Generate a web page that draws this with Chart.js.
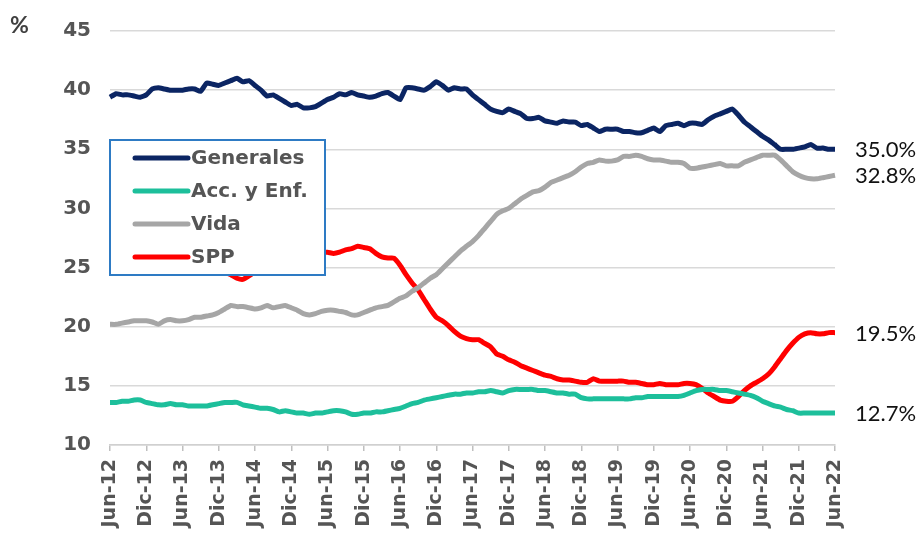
<!DOCTYPE html>
<html>
<head>
<meta charset="utf-8">
<script src="https://cdn.jsdelivr.net/npm/chart.js@4.4.1/dist/chart.umd.min.js"></script>
<style>
  html, body { margin: 0; padding: 0; background: #fff; }
  #wrap { position: relative; width: 921px; height: 536px; }
  .fontwarm { position: absolute; left: -9999px; top: 0; }
</style>
</head>
<body>
<span class="fontwarm" style="font-family: Lato; font-weight: 400;">35.0% 32.8%</span>
<span class="fontwarm" style="font-family: Lato; font-weight: 700;">%</span>
<span class="fontwarm" style="font-family: 'DejaVu Sans'; font-weight: 700;">Generales</span>
<div id="wrap"><canvas id="c" width="921" height="536"></canvas></div>
<script>
// ---- Data ----
const monthNames = ['Ene','Feb','Mar','Abr','May','Jun','Jul','Ago','Set','Oct','Nov','Dic'];
const startMonth = 5;   // Jun
const startYear = 12;   // 2012
const nMonths = 121;    // Jun-12 .. Jun-22
const categories = [];
for (let i = 0; i < nMonths; i++) {
  const m = (startMonth + i) % 12;
  const y = startYear + Math.floor((startMonth + i) / 12);
  categories.push(monthNames[m] + '-' + y);
}
const tickEvery = 6;
const yTicks = [10, 15, 20, 25, 30, 35, 40, 45];

const seriesNames = ['Generales', 'Acc. y Enf.', 'Vida', 'SPP'];

const generales = [
  39.4,39.7,39.6,39.6,39.5,39.4,39.6,40.1,40.2,40.1,40.0,40.0,40.0,40.1,40.1,39.9,40.6,40.5,40.4,40.6,
  40.8,41.0,40.7,40.8,40.4,40.0,39.5,39.6,39.3,39.0,38.7,38.8,38.5,38.5,38.6,38.9,39.2,39.4,39.7,39.6,
  39.8,39.6,39.5,39.4,39.5,39.7,39.8,39.5,39.2,40.2,40.2,40.1,40.0,40.3,40.7,40.4,40.0,40.2,40.1,40.1,
  39.6,39.2,38.8,38.4,38.2,38.1,38.4,38.2,38.0,37.6,37.6,37.7,37.4,37.3,37.2,37.4,37.3,37.3,37.0,37.1,
  36.8,36.5,36.7,36.7,36.7,36.5,36.5,36.4,36.4,36.6,36.8,36.5,37.0,37.1,37.2,37.0,37.2,37.2,37.1,37.5,
  37.8,38.0,38.2,38.4,37.9,37.3,36.9,36.5,36.1,35.8,35.4,35.0,35.0,35.0,35.1,35.2,35.4,35.1,35.1,35.0,
  35.0
];
const accEnf = [
  13.6,13.6,13.7,13.7,13.8,13.8,13.6,13.5,13.4,13.4,13.5,13.4,13.4,13.3,13.3,13.3,13.3,13.4,13.5,13.6,
  13.6,13.6,13.4,13.3,13.2,13.1,13.1,13.0,12.8,12.9,12.8,12.7,12.7,12.6,12.7,12.7,12.8,12.9,12.9,12.8,
  12.6,12.6,12.7,12.7,12.8,12.8,12.9,13.0,13.1,13.3,13.5,13.6,13.8,13.9,14.0,14.1,14.2,14.3,14.3,14.4,
  14.4,14.5,14.5,14.6,14.5,14.4,14.6,14.7,14.7,14.7,14.7,14.6,14.6,14.5,14.4,14.4,14.3,14.3,14.0,13.9,
  13.9,13.9,13.9,13.9,13.9,13.9,13.9,14.0,14.0,14.1,14.1,14.1,14.1,14.1,14.1,14.2,14.4,14.6,14.7,14.7,
  14.7,14.6,14.6,14.5,14.4,14.3,14.2,14.0,13.7,13.5,13.3,13.2,13.0,12.9,12.7,12.7,12.7,12.7,12.7,12.7,
  12.7
];
const vida = [
  20.2,20.2,20.3,20.4,20.5,20.5,20.5,20.4,20.2,20.5,20.6,20.5,20.5,20.6,20.8,20.8,20.9,21.0,21.2,21.5,
  21.8,21.7,21.7,21.6,21.5,21.6,21.8,21.6,21.7,21.8,21.6,21.4,21.1,21.0,21.1,21.3,21.4,21.4,21.3,21.2,
  21.0,21.0,21.2,21.4,21.6,21.7,21.8,22.1,22.4,22.6,23.0,23.3,23.7,24.1,24.4,24.9,25.4,25.9,26.4,26.8,
  27.2,27.7,28.3,28.9,29.5,29.8,30.0,30.4,30.8,31.1,31.4,31.5,31.8,32.2,32.4,32.6,32.8,33.1,33.5,33.8,
  33.9,34.1,34.0,34.0,34.1,34.4,34.4,34.5,34.4,34.2,34.1,34.1,34.0,33.9,33.9,33.8,33.4,33.4,33.5,33.6,
  33.7,33.8,33.6,33.6,33.6,33.9,34.1,34.3,34.5,34.5,34.5,34.1,33.6,33.1,32.8,32.6,32.5,32.5,32.6,32.7,
  32.8
];
const spp = [
  26.5,26.4,26.3,26.2,26.0,26.1,25.9,25.8,25.7,25.6,25.5,25.4,25.3,25.2,25.0,25.0,24.9,24.8,24.7,24.6,
  24.4,24.1,24.0,24.3,24.6,25.0,25.3,25.5,25.7,25.9,26.0,26.1,26.2,26.3,26.3,26.3,26.3,26.2,26.3,26.5,
  26.6,26.8,26.7,26.6,26.2,25.9,25.8,25.8,25.2,24.4,23.7,23.1,22.3,21.5,20.8,20.5,20.1,19.6,19.2,19.0,
  18.9,18.9,18.6,18.3,17.7,17.5,17.2,17.0,16.7,16.5,16.3,16.1,15.9,15.8,15.6,15.5,15.5,15.4,15.3,15.3,
  15.6,15.4,15.4,15.4,15.4,15.4,15.3,15.3,15.2,15.1,15.1,15.2,15.1,15.1,15.1,15.2,15.2,15.1,14.8,14.4,
  14.1,13.8,13.7,13.7,14.1,14.6,15.0,15.3,15.6,16.0,16.6,17.3,18.0,18.6,19.1,19.4,19.5,19.4,19.4,19.5,
  19.5
];

const seriesColors = ['#0B2563', '#1DBF9B', '#A6A6A6', '#FF0000'];
const seriesData = [generales, accEnf, vida, spp];

const TEXT_GRAY = '#555555';
const HEAVY = '"DejaVu Sans", sans-serif';
const LIGHT = 'Lato, "Open Sans", "DejaVu Sans", sans-serif';

// ---- Plugins ----
const extrasPlugin = {
  id: 'extras',
  afterDatasetsDraw(chart) {
    const ctx = chart.ctx;
    const ca = chart.chartArea;
    const ys = chart.scales.y;
    ctx.save();
    // end-value labels
    ctx.font = '400 22px ' + LIGHT;
    ctx.fillStyle = '#111111';
    ctx.textAlign = 'left';
    ctx.textBaseline = 'middle';
    chart.data.datasets.forEach(ds => {
      const v = ds.data[ds.data.length - 1];
      ctx.fillText(v.toFixed(1) + '%', ca.right + 20, ys.getPixelForValue(v) + 1);
    });
    // "%" unit label
    ctx.font = '700 23px ' + LIGHT;
    ctx.fillStyle = '#404040';
    ctx.fillText('%', 10, 26);
    // legend box
    const bx = ca.left, by = 140, bw = 215, bh = 135;
    ctx.fillStyle = '#ffffff';
    ctx.fillRect(bx - 2, by, bw + 2, bh);
    ctx.strokeStyle = '#2E7BC4';
    ctx.lineWidth = 2;
    ctx.strokeRect(bx, by, bw, bh);
    ctx.font = '700 20px ' + HEAVY;
    ctx.lineCap = 'round';
    chart.data.datasets.forEach((ds, i) => {
      const cy = by + 18 + i * 33;
      ctx.strokeStyle = ds.borderColor;
      ctx.lineWidth = 5;
      ctx.beginPath();
      ctx.moveTo(bx + 25, cy);
      ctx.lineTo(bx + 78, cy);
      ctx.stroke();
      ctx.fillStyle = TEXT_GRAY;
      ctx.fillText(ds.label, bx + 81, cy + 1);
    });
    ctx.restore();
  }
};

function build() {
  new Chart(document.getElementById('c'), {
    type: 'line',
    data: {
      labels: categories,
      datasets: seriesNames.map((name, i) => ({
        label: name,
        data: seriesData[i],
        borderColor: seriesColors[i],
        backgroundColor: seriesColors[i],
        borderWidth: 5,
        pointRadius: 0,
        tension: 0.15,
        borderCapStyle: 'butt',
        borderJoinStyle: 'round'
      }))
    },
    options: {
      responsive: false,
      animation: false,
      layout: { padding: { top: 23, right: 86, left: 0, bottom: 0 } },
      plugins: { legend: { display: false }, tooltip: { enabled: false } },
      scales: {
        x: {
          type: 'category',
          offset: false,
          afterFit(s) { s.height = 91; },
          grid: {
            display: true,
            drawOnChartArea: false,
            drawTicks: true,
            tickLength: 6,
            color: c => (c.index % tickEvery === 0 ? '#BFBFBF' : 'rgba(0,0,0,0)'),
            lineWidth: 1.5
          },
          border: { display: true, color: '#D0D0D0', width: 1.5 },
          ticks: {
            autoSkip: false,
            maxRotation: 90,
            minRotation: 90,
            padding: 8,
            color: TEXT_GRAY,
            font: { family: HEAVY, weight: '700', size: 19 },
            callback(val, idx) { return idx % tickEvery === 0 ? this.getLabelForValue(val) : ''; }
          }
        },
        y: {
          min: yTicks[0],
          max: yTicks[yTicks.length - 1],
          afterFit(s) { s.width = 110; },
          afterBuildTicks(s) { s.ticks = yTicks.map(v => ({ value: v })); },
          grid: { color: '#D9D9D9', lineWidth: 1.5, drawTicks: false },
          border: { display: false },
          ticks: {
            padding: 19,
            color: TEXT_GRAY,
            font: { family: HEAVY, weight: '700', size: 20 }
          }
        }
      }
    },
    plugins: [extrasPlugin]
  });
}

Promise.all([
  document.fonts.load('400 22px Lato'),
  document.fonts.load('700 23px Lato'),
  document.fonts.load('700 20px "DejaVu Sans"')
]).then(build, build);
</script>
</body>
</html>
